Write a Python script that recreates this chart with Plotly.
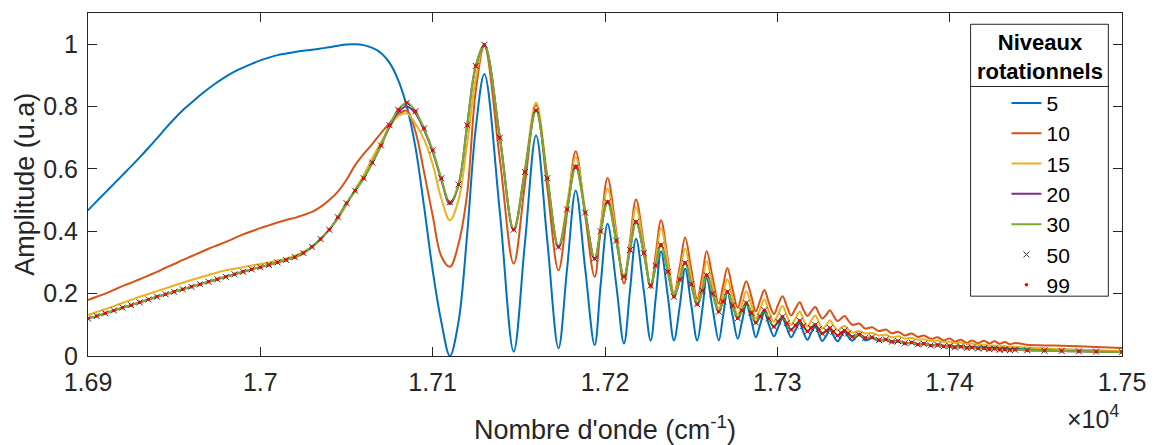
import plotly.graph_objects as go

# ---------------- data ----------------
# wavenumber grid (cm^-1): smooth part / oscillating part / tail
nombre_onde = [
    16900, 16905, 16910, 16915, 16920, 16925, 16930, 16935, 16940, 16945, 16950,
    16955, 16960, 16965, 16970, 16975, 16980, 16985, 16990, 16995, 17000, 17005,
    17010, 17015, 17020, 17025, 17030,
    17035, 17040, 17045, 17050, 17055, 17060, 17065, 17070,
    17075, 17080, 17085, 17090, 17095, 17100, 17105, 17110, 17115, 17120, 17125,
    17130, 17139, 17147, 17153.5,
    17160, 17166.5, 17173, 17178,
    17183, 17188.5, 17194, 17197.5,
    17201.5, 17206.5, 17211, 17214.5,
    17218, 17222.5, 17226.5, 17229.5,
    17232.5, 17236.5, 17240, 17243.5,
    17246.5, 17250, 17253.5, 17256.5,
    17259, 17262.5, 17266, 17268.5,
    17271, 17274, 17277, 17279.5,
    17282, 17285, 17287.5, 17290,
    17292.5, 17295, 17298, 17300.5,
    17303, 17305.5, 17308, 17310.5,
    17313, 17315, 17317.5, 17319.5,
    17322, 17324, 17326, 17328.5,
    17330.5, 17332.5, 17335, 17337,
    17339, 17341, 17343.5,
    17347.5, 17351, 17355, 17359, 17363, 17366.5, 17370, 17374, 17378, 17381.5,
    17385, 17389, 17393, 17396.5, 17400, 17403, 17406.5, 17410, 17413, 17416.5,
    17420, 17423, 17426, 17429, 17432, 17435, 17438, 17445, 17455, 17465,
    17475, 17485, 17500,
]

amp_5 = [
    0.467, 0.496, 0.524, 0.552, 0.580, 0.608, 0.637, 0.667, 0.698, 0.730, 0.760,
    0.788, 0.812, 0.836, 0.858, 0.878, 0.896, 0.912, 0.925, 0.937, 0.948, 0.957,
    0.965, 0.970, 0.975, 0.979, 0.982,
    0.986, 0.990, 0.995, 0.999, 1.000, 0.997, 0.988, 0.972,
    0.940, 0.885, 0.800, 0.670, 0.480, 0.275, 0.110, 0.000, 0.110, 0.390, 0.730,
    0.904, 0.46, 0.014, 0.36,
    0.707, 0.37, 0.025, 0.28,
    0.531, 0.28, 0.035, 0.23,
    0.424, 0.23, 0.040, 0.21,
    0.376, 0.21, 0.049, 0.19,
    0.335, 0.19, 0.050, 0.165,
    0.280, 0.165, 0.050, 0.15,
    0.250, 0.15, 0.050, 0.128,
    0.205, 0.13, 0.055, 0.11,
    0.165, 0.112, 0.060, 0.10,
    0.140, 0.102, 0.063, 0.092,
    0.120, 0.09, 0.060, 0.083,
    0.105, 0.078, 0.052, 0.073,
    0.094, 0.071, 0.048, 0.066,
    0.084, 0.066, 0.047, 0.063,
    0.078, 0.063, 0.049,
    0.072, 0.050, 0.058, 0.048, 0.052, 0.044, 0.047, 0.040, 0.043, 0.037,
    0.040, 0.034, 0.037, 0.032, 0.034, 0.030, 0.032, 0.028, 0.030, 0.027,
    0.029, 0.026, 0.028, 0.025, 0.027, 0.024, 0.026, 0.024, 0.023, 0.021,
    0.019, 0.017, 0.015,
]

amp_10 = [
    0.179, 0.190, 0.200, 0.212, 0.224, 0.235, 0.246, 0.258, 0.270, 0.283, 0.295,
    0.308, 0.320, 0.332, 0.344, 0.355, 0.366, 0.378, 0.390, 0.400, 0.410, 0.419,
    0.428, 0.436, 0.443, 0.452, 0.462,
    0.478, 0.500, 0.527, 0.565, 0.612, 0.648, 0.680, 0.715,
    0.747, 0.775, 0.787, 0.720, 0.590, 0.450, 0.320, 0.286, 0.360, 0.520, 0.850,
    0.995, 0.63, 0.296, 0.55,
    0.805, 0.54, 0.275, 0.46,
    0.657, 0.45, 0.254, 0.41,
    0.571, 0.40, 0.232, 0.37,
    0.502, 0.36, 0.218, 0.33,
    0.435, 0.31, 0.200, 0.29,
    0.380, 0.28, 0.183, 0.26,
    0.336, 0.25, 0.168, 0.225,
    0.282, 0.215, 0.155, 0.20,
    0.240, 0.19, 0.143, 0.178,
    0.212, 0.172, 0.135, 0.165,
    0.192, 0.16, 0.130, 0.152,
    0.172, 0.15, 0.128, 0.142,
    0.157, 0.138, 0.120, 0.133,
    0.147, 0.13, 0.112, 0.12,
    0.128, 0.115, 0.100,
    0.104, 0.088, 0.092, 0.080, 0.085, 0.073, 0.078, 0.066, 0.072, 0.061,
    0.066, 0.055, 0.060, 0.050, 0.056, 0.046, 0.052, 0.042, 0.050, 0.041,
    0.049, 0.040, 0.047, 0.039, 0.045, 0.038, 0.042, 0.036, 0.034, 0.033,
    0.031, 0.029, 0.026,
]

amp_15 = [
    0.131, 0.141, 0.150, 0.160, 0.170, 0.180, 0.190, 0.199, 0.208, 0.217, 0.226,
    0.235, 0.244, 0.252, 0.260, 0.268, 0.275, 0.280, 0.285, 0.290, 0.295, 0.300,
    0.306, 0.313, 0.322, 0.334, 0.350,
    0.375, 0.405, 0.440, 0.485, 0.535, 0.580, 0.635, 0.685,
    0.735, 0.770, 0.778, 0.745, 0.695, 0.615, 0.505, 0.435, 0.500, 0.680, 0.890,
    1.000, 0.70, 0.408, 0.60,
    0.813, 0.58, 0.350, 0.49,
    0.637, 0.47, 0.310, 0.42,
    0.536, 0.39, 0.255, 0.36,
    0.477, 0.35, 0.228, 0.31,
    0.410, 0.30, 0.195, 0.27,
    0.344, 0.255, 0.172, 0.235,
    0.305, 0.225, 0.152, 0.198,
    0.246, 0.188, 0.132, 0.168,
    0.208, 0.163, 0.120, 0.15,
    0.182, 0.145, 0.110, 0.135,
    0.160, 0.13, 0.100, 0.12,
    0.143, 0.118, 0.095, 0.112,
    0.130, 0.11, 0.088, 0.10,
    0.115, 0.098, 0.082, 0.09,
    0.097, 0.086, 0.075,
    0.080, 0.072, 0.074, 0.066, 0.068, 0.060, 0.063, 0.056, 0.058, 0.052,
    0.054, 0.048, 0.050, 0.045, 0.046, 0.041, 0.043, 0.038, 0.040, 0.035,
    0.037, 0.033, 0.034, 0.031, 0.032, 0.029, 0.030, 0.027, 0.024, 0.022,
    0.020, 0.018, 0.016,
]

amp_20 = [
    0.120, 0.128, 0.137, 0.146, 0.155, 0.163, 0.172, 0.181, 0.190, 0.198, 0.206,
    0.214, 0.222, 0.230, 0.238, 0.246, 0.254, 0.262, 0.270, 0.278, 0.285, 0.292,
    0.300, 0.308, 0.317, 0.330, 0.350,
    0.375, 0.405, 0.445, 0.490, 0.530, 0.570, 0.620, 0.675,
    0.735, 0.782, 0.800, 0.778, 0.725, 0.655, 0.565, 0.487, 0.548, 0.740, 0.930,
    0.995, 0.70, 0.403, 0.59,
    0.790, 0.57, 0.347, 0.47,
    0.612, 0.46, 0.310, 0.40,
    0.498, 0.37, 0.253, 0.34,
    0.433, 0.33, 0.225, 0.29,
    0.360, 0.27, 0.189, 0.245,
    0.302, 0.23, 0.165, 0.21,
    0.262, 0.20, 0.142, 0.175,
    0.206, 0.163, 0.121, 0.146,
    0.170, 0.138, 0.107, 0.127,
    0.147, 0.12, 0.094, 0.11,
    0.126, 0.105, 0.084, 0.098,
    0.113, 0.096, 0.079, 0.09,
    0.100, 0.086, 0.072, 0.081,
    0.090, 0.078, 0.066, 0.074,
    0.082, 0.072, 0.062,
    0.068, 0.058, 0.060, 0.051, 0.053, 0.046, 0.048, 0.041, 0.043, 0.037,
    0.039, 0.034, 0.035, 0.031, 0.032, 0.028, 0.030, 0.026, 0.027, 0.024,
    0.025, 0.022, 0.023, 0.020, 0.021, 0.019, 0.020, 0.018, 0.017, 0.016,
    0.015, 0.014, 0.013,
]

amp_30 = [
    0.120, 0.128, 0.137, 0.146, 0.155, 0.163, 0.172, 0.181, 0.190, 0.198, 0.206,
    0.214, 0.222, 0.230, 0.238, 0.246, 0.254, 0.262, 0.270, 0.278, 0.285, 0.292,
    0.300, 0.308, 0.317, 0.330, 0.350,
    0.375, 0.405, 0.445, 0.490, 0.530, 0.570, 0.620, 0.675,
    0.740, 0.790, 0.812, 0.785, 0.730, 0.660, 0.570, 0.493, 0.550, 0.740, 0.930,
    0.998, 0.70, 0.405, 0.59,
    0.787, 0.57, 0.350, 0.47,
    0.605, 0.46, 0.312, 0.40,
    0.493, 0.37, 0.254, 0.34,
    0.430, 0.33, 0.226, 0.29,
    0.355, 0.27, 0.190, 0.245,
    0.298, 0.23, 0.166, 0.21,
    0.259, 0.20, 0.142, 0.175,
    0.206, 0.163, 0.121, 0.146,
    0.170, 0.138, 0.107, 0.127,
    0.147, 0.12, 0.094, 0.11,
    0.126, 0.105, 0.084, 0.098,
    0.113, 0.096, 0.079, 0.09,
    0.100, 0.086, 0.072, 0.081,
    0.090, 0.078, 0.066, 0.074,
    0.082, 0.072, 0.062,
    0.068, 0.058, 0.060, 0.051, 0.053, 0.046, 0.048, 0.041, 0.043, 0.037,
    0.039, 0.034, 0.035, 0.031, 0.032, 0.028, 0.030, 0.026, 0.027, 0.024,
    0.025, 0.022, 0.023, 0.020, 0.021, 0.019, 0.020, 0.018, 0.017, 0.016,
    0.015, 0.014, 0.013,
]

amp_50 = [
    0.120, 0.128, 0.137, 0.146, 0.155, 0.163, 0.172, 0.181, 0.190, 0.198, 0.206,
    0.214, 0.222, 0.230, 0.238, 0.246, 0.254, 0.262, 0.270, 0.278, 0.285, 0.292,
    0.300, 0.308, 0.317, 0.330, 0.350,
    0.375, 0.405, 0.445, 0.490, 0.530, 0.570, 0.620, 0.675,
    0.740, 0.790, 0.812, 0.785, 0.730, 0.660, 0.570, 0.493, 0.550, 0.740, 0.930,
    0.998, 0.70, 0.405, 0.59,
    0.787, 0.57, 0.350, 0.47,
    0.605, 0.46, 0.312, 0.40,
    0.493, 0.37, 0.254, 0.34,
    0.430, 0.33, 0.226, 0.29,
    0.355, 0.27, 0.190, 0.245,
    0.298, 0.23, 0.166, 0.21,
    0.259, 0.20, 0.142, 0.175,
    0.206, 0.163, 0.121, 0.146,
    0.170, 0.138, 0.107, 0.127,
    0.147, 0.12, 0.094, 0.11,
    0.126, 0.105, 0.084, 0.098,
    0.113, 0.096, 0.079, 0.09,
    0.100, 0.086, 0.072, 0.081,
    0.090, 0.078, 0.066, 0.074,
    0.082, 0.072, 0.062,
    0.068, 0.058, 0.060, 0.051, 0.053, 0.046, 0.048, 0.041, 0.043, 0.037,
    0.039, 0.034, 0.035, 0.031, 0.032, 0.028, 0.030, 0.026, 0.027, 0.024,
    0.025, 0.022, 0.023, 0.020, 0.021, 0.019, 0.020, 0.018, 0.017, 0.016,
    0.015, 0.014, 0.013,
]

amp_99 = list(amp_50)   # level 99 lies on top of level 50 in the reference

niveaux = ["5", "10", "15", "20", "30", "50", "99"]
tick_x = [16900, 17000, 17100, 17200, 17300, 17400, 17500]
tick_x_text = ["1.69", "1.7", "1.71", "1.72", "1.73", "1.74", "1.75"]
tick_y = [0, 0.2, 0.4, 0.6, 0.8, 1.0]
tick_y_text = ["0", "0.2", "0.4", "0.6", "0.8", "1"]

series = [amp_5, amp_10, amp_15, amp_20, amp_30, amp_50, amp_99]
for s in series:
    assert len(s) == len(nombre_onde), len(s)

# ---------------- styling ----------------
couleurs = ["#0072BD", "#D95319", "#EDB120", "#7E2F8E", "#77AC30"]
FONT = "Liberation Sans, Arial, Helvetica, sans-serif"
AX = "#262626"

W, H = 1158, 445
L, R, T, B = 88, 32, 12, 89


def px(x):
    return (x - L) / (W - L - R)


def py(y):
    return (H - B - y) / (H - T - B)


fig = go.Figure()
for i in range(5):
    fig.add_trace(go.Scatter(
        x=nombre_onde, y=series[i], name=niveaux[i], mode="lines",
        line=dict(color=couleurs[i], width=2, shape="spline", smoothing=1),
    ))
fig.add_trace(go.Scatter(
    x=nombre_onde, y=amp_50, name=niveaux[5], mode="markers",
    marker=dict(symbol="x-thin", size=6, line=dict(width=1, color="#333333"), color="#333333"),
))
fig.add_trace(go.Scatter(
    x=nombre_onde, y=amp_99, name=niveaux[6], mode="markers",
    marker=dict(symbol="circle", size=3.5, color="#FF0000"),
))

axis_common = dict(
    showline=True, linecolor=AX, linewidth=1, mirror="ticks",
    ticks="inside", ticklen=9, tickcolor=AX, tickwidth=1,
    showgrid=False, zeroline=False,
    tickfont=dict(family=FONT, size=25, color=AX),
)

fig.update_layout(
    width=W, height=H,
    margin=dict(l=L, r=R, t=T, b=B),
    paper_bgcolor="white", plot_bgcolor="white",
    font=dict(family=FONT, color=AX),
    xaxis=dict(range=[16900, 17500], tickvals=tick_x, ticktext=tick_x_text,
               ticklabelstandoff=4, **axis_common),
    yaxis=dict(range=[0, 1.1], tickvals=tick_y, ticktext=tick_y_text,
               ticklabelstandoff=4, **axis_common),
    showlegend=True,
    legend=dict(
        x=px(1010), y=py(82), xanchor="left", yanchor="top",
        bgcolor="rgba(0,0,0,0)", borderwidth=0,
        font=dict(family=FONT, size=21, color="black"),
    ),
    shapes=[
        dict(type="rect", xref="paper", yref="paper",
             x0=px(974), x1=px(1112.3), y0=py(296), y1=py(23.3),
             line=dict(color=AX, width=1), fillcolor="white", layer="above"),
        dict(type="line", xref="paper", yref="paper",
             x0=px(974), x1=px(1112.3), y0=py(85.7), y1=py(85.7),
             line=dict(color=AX, width=1), layer="above"),
    ],
    annotations=[
        dict(text="<b>Niveaux<br>rotationnels</b>", xref="paper", yref="paper",
             x=px(1043.2), y=py(56.5), xanchor="center", yanchor="middle",
             showarrow=False, font=dict(family=FONT, size=22, color="black")),
        dict(text="Nombre d'onde (cm<sup>-1</sup>)", xref="paper", yref="paper",
             x=0.5, y=py(428), xanchor="center", yanchor="middle",
             showarrow=False, font=dict(family=FONT, size=27, color=AX)),
        dict(text="Amplitude (u.a)", xref="paper", yref="paper",
             x=px(24), y=0.5, xanchor="center", yanchor="middle", textangle=-90,
             showarrow=False, font=dict(family=FONT, size=27, color=AX)),
        dict(text="\u00d710<sup>4</sup>", xref="paper", yref="paper",
             x=px(1125), y=py(417), xanchor="right", yanchor="middle",
             showarrow=False, font=dict(family=FONT, size=25, color=AX)),
    ],
)

fig.write_html("out.html", config={"displayModeBar": False},
               post_script="document.body.style.margin='0';")
